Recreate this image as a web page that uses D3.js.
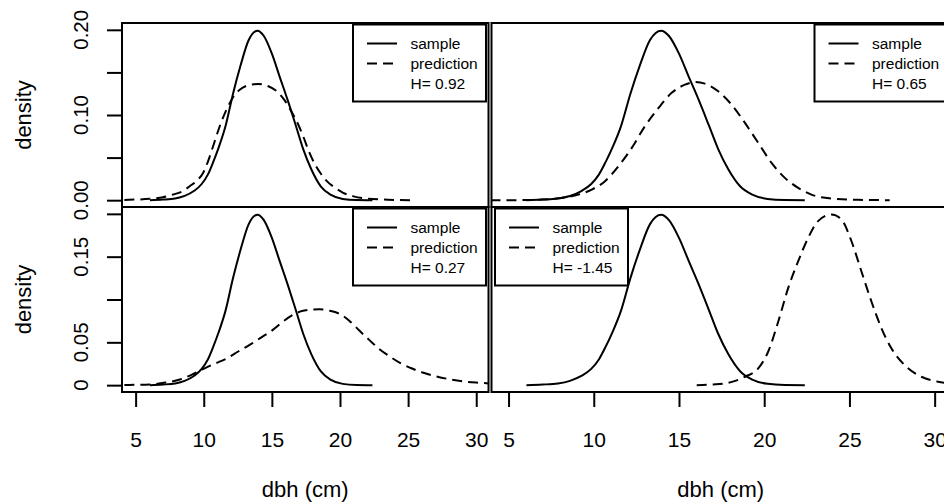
<!DOCTYPE html>
<html>
<head>
<meta charset="utf-8">
<script src="https://cdn.jsdelivr.net/npm/d3@7"></script>
<style>
  body { margin: 0; background: #fff; }
  svg { display: block; font-family: "Liberation Sans", Arial, sans-serif; }
</style>
</head>
<body>
<svg id="chart"></svg>
<script>
// sample density, same curve in all four panels
const SAMPLE_X = [6.05, 7.0, 7.9, 8.6, 9.3, 9.85, 10.3, 10.7, 11.1, 11.6, 12.15, 12.7, 13.3, 13.95,
    14.4, 15.0, 15.55, 16.15, 16.75, 17.3, 17.9, 18.6, 19.3, 20.2, 21.2, 22.38];
const SAMPLE_D = [0, 0.0007, 0.002, 0.005, 0.011, 0.019, 0.03, 0.045, 0.062, 0.087, 0.125, 0.158, 0.188, 0.199,
    0.193, 0.172, 0.146, 0.118, 0.088, 0.06, 0.036, 0.016, 0.0065, 0.0015, 0.0002, 0];

// predictions, one per panel
const PRED_A_X = [3.0, 4.5, 6.05, 7.0, 7.75, 8.5, 8.97, 9.5, 9.95, 10.3, 10.68, 11.2, 11.66, 12.2, 12.64, 13.3, 14.0,
    14.7, 15.35, 15.9, 16.4, 16.9, 17.3, 17.7, 18.1, 18.6, 19.0, 19.6, 20.2, 21.0, 21.9, 23.5, 25.2];
const PRED_A_D = [0, 0.0005, 0.0016, 0.0035, 0.0066, 0.011, 0.0164, 0.023, 0.032, 0.045, 0.063, 0.088, 0.106, 0.122, 0.1297, 0.135, 0.1364,
    0.134, 0.128, 0.118, 0.105, 0.09, 0.075, 0.058, 0.044, 0.031, 0.023, 0.015, 0.009, 0.0045, 0.002, 0.0006, 0];

const PRED_B_X = [3.0, 5.0, 6.0, 7.0, 7.93, 8.5, 9.1, 9.88, 10.66, 11.45, 12.23, 13.0, 13.79, 14.57, 15.35, 15.94,
    16.52, 17.3, 18.09, 18.87, 19.65, 20.43, 21.21, 21.99, 22.77, 23.95, 25.5, 27.36];
const PRED_B_D = [0, 0, 0.0002, 0.0008, 0.0023, 0.004, 0.0066, 0.0125, 0.0223, 0.04, 0.0614, 0.0868, 0.108, 0.126, 0.1356, 0.1387,
    0.1368, 0.1278, 0.112, 0.0907, 0.0672, 0.0438, 0.0262, 0.0145, 0.0066, 0.002, 0.0004, 0];

const PRED_C_X = [3.0, 4.5, 6.05, 7.2, 8.24, 9.1, 9.95, 10.8, 11.66, 12.5, 13.37, 14.2, 15.07, 15.8, 16.54, 17.2, 17.8,
    18.5, 19.2, 20.0, 20.7, 21.4, 22.2, 22.9, 23.7, 24.4, 25.2, 26.0, 27.0, 28.0, 29.0, 30.0, 31.0, 32.0];
const PRED_C_D = [0, 0.0003, 0.0008, 0.003, 0.0066, 0.012, 0.0188, 0.025, 0.031, 0.039, 0.047, 0.0555, 0.0645, 0.074, 0.082, 0.0865, 0.088,
    0.0885, 0.087, 0.083, 0.075, 0.064, 0.052, 0.042, 0.033, 0.026, 0.02, 0.015, 0.0105, 0.007, 0.0045, 0.003, 0.002, 0.0012];

const PRED_D_X = [16.04, 17.0, 17.7, 18.3, 18.87, 19.65, 20.23, 20.82, 21.4, 21.99, 22.58, 23.16, 23.95, 24.53,
    25.12, 25.7, 26.29, 26.88, 27.46, 28.24, 29.22, 30.2, 31.2];
const PRED_D_D = [0, 0.0008, 0.002, 0.005, 0.0098, 0.0195, 0.039, 0.074, 0.113, 0.1446, 0.172, 0.1915, 0.1993, 0.1934,
    0.168, 0.133, 0.0977, 0.0664, 0.043, 0.0234, 0.0098, 0.004, 0.0015];

const H_VALUES = ["0.92", "0.65", "0.27", "-1.45"];
const LEGEND_LABELS = ["sample", "prediction"];

const X_TICKS = [5, 10, 15, 20, 25, 30];
const Y_TICKS = [0, 0.05, 0.1, 0.15, 0.2];
const Y_LABELS_TOP = [[0, "0.00"], [0.1, "0.10"], [0.2, "0.20"]];
const Y_LABELS_BOTTOM = [[0, "0"], [0.05, "0.05"], [0.15, "0.15"]];

const WIDTH = 944;
const HEIGHT = 504;
const X_DOMAIN = [4, 30.9];
const Y_DOMAIN = [-0.008, 0.208];

function zip(xs, ds) {
    return xs.map(function(x, i) { return { x: x, d: ds[i] }; });
}

const PANELS = [
    { id: "a", x0: 122, x1: 488.5, y0: 23, y1: 207, pred: zip(PRED_A_X, PRED_A_D), h: H_VALUES[0],
      legend: "right", yLabels: Y_LABELS_TOP, xAxis: false },
    { id: "b", x0: 491.5, x1: 950, y0: 23, y1: 207, pred: zip(PRED_B_X, PRED_B_D), h: H_VALUES[1],
      legend: "right", yLabels: null, xAxis: false },
    { id: "c", x0: 122, x1: 488.5, y0: 207, y1: 392, pred: zip(PRED_C_X, PRED_C_D), h: H_VALUES[2],
      legend: "right", yLabels: Y_LABELS_BOTTOM, xAxis: true },
    { id: "d", x0: 491.5, x1: 950, y0: 207, y1: 392, pred: zip(PRED_D_X, PRED_D_D), h: H_VALUES[3],
      legend: "left", yLabels: null, xAxis: true }
];

const sample = zip(SAMPLE_X, SAMPLE_D);

const svg = d3.select("#chart")
    .attr("width", WIDTH)
    .attr("height", HEIGHT);

const defs = svg.append("defs");

function drawPanel(p) {
    const x = d3.scaleLinear().domain(X_DOMAIN).range([p.x0, p.x1]);
    const y = d3.scaleLinear().domain(Y_DOMAIN).range([p.y1, p.y0]);

    defs.append("clipPath")
        .attr("id", "clip-" + p.id)
        .append("rect")
        .attr("x", p.x0)
        .attr("y", p.y0)
        .attr("width", p.x1 - p.x0)
        .attr("height", p.y1 - p.y0);

    const line = d3.line()
        .x(function(d) { return x(d.x); })
        .y(function(d) { return y(d.d); })
        .curve(d3.curveMonotoneX);

    const g = svg.append("g").attr("clip-path", "url(#clip-" + p.id + ")");

    g.append("path")
        .attr("d", line(sample))
        .attr("fill", "none")
        .attr("stroke", "#000")
        .attr("stroke-width", 2);

    g.append("path")
        .attr("d", line(p.pred))
        .attr("fill", "none")
        .attr("stroke", "#000")
        .attr("stroke-width", 2)
        .attr("stroke-dasharray", "10,6");

    // box
    svg.append("rect")
        .attr("x", p.x0)
        .attr("y", p.y0)
        .attr("width", p.x1 - p.x0)
        .attr("height", p.y1 - p.y0)
        .attr("fill", "none")
        .attr("stroke", "#000")
        .attr("stroke-width", 2);

    // legend
    const lw = 133, lh = 77;
    const lx = p.legend === "right" ? p.x1 - 2.5 - lw : p.x0 + 3.5;
    const ly = p.y0 + 1.5;
    const leg = svg.append("g").attr("transform", "translate(" + lx + "," + ly + ")");
    leg.append("rect")
        .attr("width", lw)
        .attr("height", lh)
        .attr("fill", "#fff")
        .attr("stroke", "#000")
        .attr("stroke-width", 2);
    const rows = LEGEND_LABELS.concat(["H= " + p.h]);
    rows.forEach(function(label, i) {
        if (i < 2) {
            leg.append("line")
                .attr("x1", 14).attr("x2", 44)
                .attr("y1", 19 + i * 20).attr("y2", 19 + i * 20)
                .attr("stroke", "#000")
                .attr("stroke-width", 2)
                .attr("stroke-dasharray", i === 1 ? "10,6" : null);
        }
        leg.append("text")
            .attr("x", 57.5)
            .attr("y", 24.5 + i * 20)
            .attr("font-size", 15.5)
            .attr("fill", "#000")
            .text(label);
    });

    // y axis
    if (p.yLabels) {
        const ya = svg.append("g")
            .attr("transform", "translate(" + p.x0 + ",0)")
            .call(d3.axisLeft(y).tickValues(Y_TICKS).tickSize(15).tickSizeOuter(0).tickFormat(""));
        ya.select(".domain").remove();
        ya.selectAll("line").attr("stroke", "#000").attr("stroke-width", 2);

        p.yLabels.forEach(function(t) {
            svg.append("text")
                .attr("transform", "translate(" + (p.x0 - 34) + "," + y(t[0]) + ") rotate(-90)")
                .attr("text-anchor", "middle")
                .attr("font-size", 20.5)
                .attr("fill", "#000")
                .text(t[1]);
        });

        svg.append("text")
            .attr("transform", "translate(31," + ((p.y0 + p.y1) / 2) + ") rotate(-90)")
            .attr("text-anchor", "middle")
            .attr("font-size", 22)
            .attr("fill", "#000")
            .text("density");
    }

    // x axis
    if (p.xAxis) {
        const xa = svg.append("g")
            .attr("transform", "translate(0," + p.y1 + ")")
            .call(d3.axisBottom(x).tickValues(X_TICKS).tickSize(15).tickSizeOuter(0).tickPadding(25));
        xa.select(".domain").remove();
        xa.selectAll("line").attr("stroke", "#000").attr("stroke-width", 2);
        xa.selectAll("text")
            .attr("font-size", 21)
            .attr("font-family", "Liberation Sans, Arial, sans-serif")
            .attr("fill", "#000");

        svg.append("text")
            .attr("x", (p.x0 + Math.min(p.x1, WIDTH + 6)) / 2)
            .attr("y", 497)
            .attr("text-anchor", "middle")
            .attr("font-size", 22)
            .attr("fill", "#000")
            .text("dbh (cm)");
    }
}

PANELS.forEach(drawPanel);
</script>
</body>
</html>
